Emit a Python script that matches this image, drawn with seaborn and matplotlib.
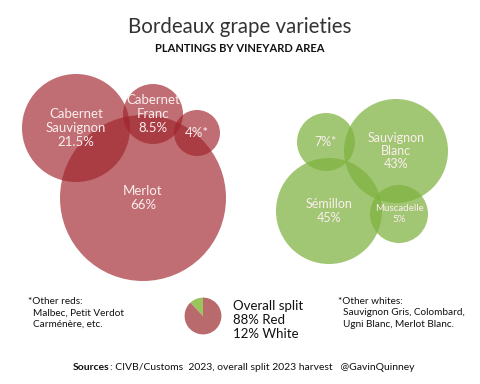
import matplotlib
matplotlib.use("Agg")
import matplotlib.pyplot as plt
from matplotlib.patches import Circle
import seaborn as sns

# shares of vineyard area (%)
reds = ["Cabernet\nSauvignon", "Cabernet\nFranc", "", "Merlot"]
red_share = [21.5, 8.5, 4, 66]
red_suffix = ["%", "%", "%*", "%"]
whites = ["", "Sauvignon\nBlanc", "Sémillon", "Muscadelle"]
white_share = [7, 43, 45, 5]
white_suffix = ["%*", "%", "%", "%"]
split_labels = ["White", "Red"]
split_share = [12, 88]

# bubble layout in pixels (x, y, radius)
red_x = [76, 153, 197, 143]
red_y = [128, 114, 133, 198]
red_r = [54, 30, 23, 83]
white_x = [326, 396, 329, 399]
white_y = [142, 151, 211, 214]
white_r = [29, 52, 53, 29]

RED = "#a0232b"
GREEN = "#7fb23e"
TXT = "#2b2b2b"

sns.set_style("white")
plt.rcParams["font.family"] = ["Lato", "DejaVu Sans"]

fig = plt.figure(figsize=(4.8, 3.84), dpi=100)
ax = fig.add_axes([0, 0, 1, 1])
ax.set_xlim(0, 480)
ax.set_ylim(384, 0)
ax.axis("off")


def bubbles(names, shares, suffix, xs, ys, rs, color, alpha, fs):
    for n, s, suf, x, y, r in zip(names, shares, suffix, xs, ys, rs):
        ax.add_patch(Circle((x, y), r, facecolor=color, edgecolor="none", alpha=alpha))
    for n, s, suf, x, y, r, f in zip(names, shares, suffix, xs, ys, rs, fs):
        val = f"{s:g}{suf}"
        label = f"{n}\n{val}" if n else val
        ax.text(x, y, label, ha="center", va="center", color="#fbeeee",
                fontsize=f, linespacing=1.15)


bubbles(reds, red_share, red_suffix, red_x, red_y, red_r, RED, 0.66, [9.5, 9.5, 9.5, 9.5])
bubbles(whites, white_share, white_suffix, white_x, white_y, white_r, GREEN, 0.72,
        [9, 9, 9, 7])

fig.text(0.5, 1 - 27 / 384, "Bordeaux grape varieties", ha="center", va="center",
         fontsize=14.8, color="#333333")
fig.text(0.5, 1 - 48 / 384, "PLANTINGS BY VINEYARD AREA", ha="center", va="center",
         fontsize=8, color="#111111", fontweight="bold")

# overall split pie
pax = fig.add_axes([180 / 480, 1 - 339 / 384, 46 / 480, 46 / 384])
pax.pie(split_share, colors=["#9ac45c", "#b86a6c"], startangle=90, counterclock=True,
        wedgeprops={"linewidth": 0})
pax.set_aspect("equal")

ax.text(233, 300, "Overall split\n88% Red\n12% White", ha="left", va="top",
        fontsize=9.5, color="#111111", linespacing=1.2)
ax.text(28, 297, "*Other reds:\n  Malbec, Petit Verdot\n  Carménère, etc.", ha="left", va="top",
        fontsize=7.2, color="#111111", linespacing=1.35)
ax.text(338, 297, "*Other whites:\n  Sauvignon Gris, Colombard,\n  Ugni Blanc, Merlot Blanc.",
        ha="left", va="top", fontsize=7.2, color="#111111", linespacing=1.35)

src = ax.text(73, 367, "Sources", ha="left", va="center", fontsize=7.5,
              fontweight="bold", color="#111111")
fig.canvas.draw()
bb = src.get_window_extent()
x_end = ax.transData.inverted().transform((bb.x1, bb.y0))[0]
ax.text(x_end, 367, ": CIVB/Customs  2023, overall split 2023 harvest   @GavinQuinney",
        ha="left", va="center", fontsize=7.5, color="#111111")

fig.savefig("out.png", dpi=100, facecolor="white")
